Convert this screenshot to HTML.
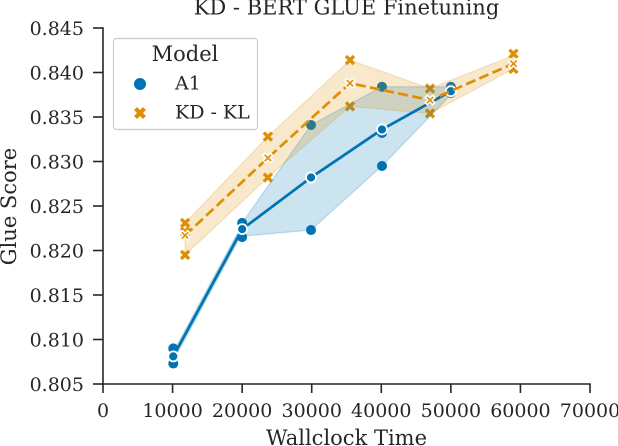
<!DOCTYPE html>
<html>
<head>
<meta charset="utf-8">
<style>
html,body{margin:0;padding:0;background:#fff;width:618px;height:446px;overflow:hidden}
svg{display:block}
text{font-family:"DejaVu Serif","Liberation Serif",serif;fill:#262626}
</style>
</head>
<body>
<svg id="chart" width="618" height="446" viewBox="0 0 618 446" xmlns="http://www.w3.org/2000/svg">
<text x="346.5" y="14.3" font-size="21" text-anchor="middle">KD - BERT GLUE Finetuning</text>
<text x="346.5" y="445" font-size="21" text-anchor="middle">Wallclock Time</text>
<text x="0" y="0" font-size="21" text-anchor="middle" transform="translate(16,206.5) rotate(-90)">Glue Score</text>
<g id="bands"></g>
<g id="axes"></g>
<g>
<rect x="113.5" y="38.5" width="144" height="91" rx="3" fill="#fff" fill-opacity="0.8" stroke="#cccccc" stroke-width="1.2"/>
<text x="185" y="61" font-size="21" text-anchor="middle">Model</text>
<circle cx="140" cy="84" r="6" fill="#0173b2"/>
<text x="175" y="89.5" font-size="19">A1</text>
<path fill="#de8f05" d="M134 110L137 107L140 110L143 107L146 110L143 113L146 116L143 119L140 116L137 119L134 116L137 113Z"/>
<text x="175" y="118.5" font-size="19">KD - KL</text>
</g>
</svg>
<script>
var xTicks = [0, 10000, 20000, 30000, 40000, 50000, 60000, 70000];
var yTicks = ["0.805", "0.810", "0.815", "0.820", "0.825", "0.830", "0.835", "0.840", "0.845"];

var a1Times = [10100, 20000, 29900, 40100, 50000];
var a1RunA = [0.8073, 0.8215, 0.8223, 0.8295, 0.8377];
var a1RunB = [0.8081, 0.8224, 0.8282, 0.8332, 0.8379];
var a1RunC = [0.8090, 0.8231, 0.8341, 0.8384, 0.8384];
var a1Mean = [0.8081, 0.8224, 0.8282, 0.8336, 0.8379];
var a1BandTimes = [10100, 19700, 20000, 29900, 40100, 50000];
var a1BandLow = [0.8076, 0.8215, 0.8216, 0.8223, 0.8295, 0.8375];
var a1BandHigh = [0.8086, 0.8225, 0.8231, 0.8341, 0.8384, 0.8384];

var kdTimes = [11800, 23700, 35500, 47000, 59000];
var kdRunA = [0.8195, 0.8282, 0.8362, 0.8354, 0.8404];
var kdRunB = [0.8221, 0.8304, 0.8388, 0.8369, 0.8410];
var kdRunC = [0.8231, 0.8328, 0.8414, 0.8382, 0.8421];
var kdMean = [0.8217, 0.8304, 0.8388, 0.8369, 0.8410];
var kdBandLow = [0.8195, 0.8282, 0.8362, 0.8354, 0.8404];
var kdBandHigh = [0.8231, 0.8328, 0.8414, 0.8382, 0.8419];

var NS = 'http://www.w3.org/2000/svg';
var BLUE = '#0173b2';
var ORANGE = '#de8f05';
function sx(v) { return 103 + (v / 70000) * 487; }
function sy(v) { return 384 - ((v - 0.805) / 0.04) * 356; }
function make(tag, attrs, parent) {
  var el = document.createElementNS(NS, tag);
  for (var k in attrs) { el.setAttribute(k, attrs[k]); }
  parent.appendChild(el);
  return el;
}
function xShape(cx, cy, s) {
  var a = s, b = s * 0.46;
  var pts = [[-a,-a+b],[-a+b,-a],[0,-b],[a-b,-a],[a,-a+b],[b,0],[a,a-b],[a-b,a],[0,b],[-a+b,a],[-a,a-b],[-b,0]];
  return 'M' + pts.map(function (p) { return (cx + p[0]).toFixed(2) + ' ' + (cy + p[1]).toFixed(2); }).join('L') + 'Z';
}
var bandLayer = document.getElementById('bands');
var axesLayer = document.getElementById('axes');

function drawRaw(times, runs, color, isX, label) {
  runs.forEach(function (run) {
    run.forEach(function (v, i) {
      var el;
      if (isX) {
        el = make('path', { d: xShape(sx(times[i]), sy(v), 5.2), fill: color }, bandLayer);
      } else {
        el = make('circle', { cx: sx(times[i]), cy: sy(v), r: 5, fill: color }, bandLayer);
      }
      
      
    });
  });
}
function drawBand(times, low, high, color, label) {
  var top = times.map(function (t, i) { return sx(t).toFixed(2) + ',' + sy(high[i]).toFixed(2); });
  var bot = times.map(function (t, i) { return sx(t).toFixed(2) + ',' + sy(low[i]).toFixed(2); }).reverse();
  var el = make('polygon', { points: top.concat(bot).join(' '), fill: color, 'fill-opacity': 0.2, stroke: color, 'stroke-opacity': 0.2, 'stroke-width': 1.3 }, bandLayer);
  
  
}
function drawLine(times, means, color, dash, isX, label) {
  var pts = times.map(function (t, i) { return sx(t).toFixed(2) + ',' + sy(means[i]).toFixed(2); }).join(' ');
  var line = make('polyline', { points: pts, fill: 'none', stroke: color, 'stroke-width': 2.7 }, bandLayer);
  if (dash) { line.setAttribute('stroke-dasharray', dash); }
  
  
  means.forEach(function (v, i) {
    var el;
    if (isX) {
      el = make('path', { d: xShape(sx(times[i]), sy(v), 4.8), fill: color, stroke: '#fff', 'stroke-width': 1.5 }, bandLayer);
    } else {
      el = make('circle', { cx: sx(times[i]), cy: sy(v), r: 5, fill: color, stroke: '#fff', 'stroke-width': 1.8 }, bandLayer);
    }
    
    
  });
}
var a1Runs = [a1RunA, a1RunB, a1RunC];
var kdRuns = [kdRunA, kdRunB, kdRunC];
drawRaw(a1Times, a1Runs, BLUE, false, 'a1');
drawRaw(kdTimes, kdRuns, ORANGE, true, 'kd-kl');
drawBand(a1BandTimes, a1BandLow, a1BandHigh, BLUE, 'a1');
drawBand(kdTimes, kdBandLow, kdBandHigh, ORANGE, 'kd-kl');
drawLine(a1Times, a1Mean, BLUE, null, false, 'a1');
drawLine(kdTimes, kdMean, ORANGE, '10 4.4', true, 'kd-kl');

var INK = '#262626';
var xSpine = make('line', { x1: 102.2, y1: 384, x2: 590.8, y2: 384, stroke: INK, 'stroke-width': 1.6 }, axesLayer);


var ySpine = make('line', { x1: 103, y1: 27.2, x2: 103, y2: 384.8, stroke: INK, 'stroke-width': 1.6 }, axesLayer);


xTicks.forEach(function (v) {
  var t = make('line', { x1: sx(v), y1: 384, x2: sx(v), y2: 393, stroke: INK, 'stroke-width': 1.6 }, axesLayer);
  
  
  var l = make('text', { x: sx(v), y: 417, 'font-size': 19, 'text-anchor': 'middle' }, axesLayer);
  l.textContent = String(v);
  
  
});
yTicks.forEach(function (s) {
  var y = sy(parseFloat(s));
  var t = make('line', { x1: 93, y1: y, x2: 103, y2: y, stroke: INK, 'stroke-width': 1.6 }, axesLayer);
  
  
  var l = make('text', { x: 84, y: y + 7, 'font-size': 19, 'text-anchor': 'end' }, axesLayer);
  l.textContent = s;
  
  
});
</script>
</body>
</html>
